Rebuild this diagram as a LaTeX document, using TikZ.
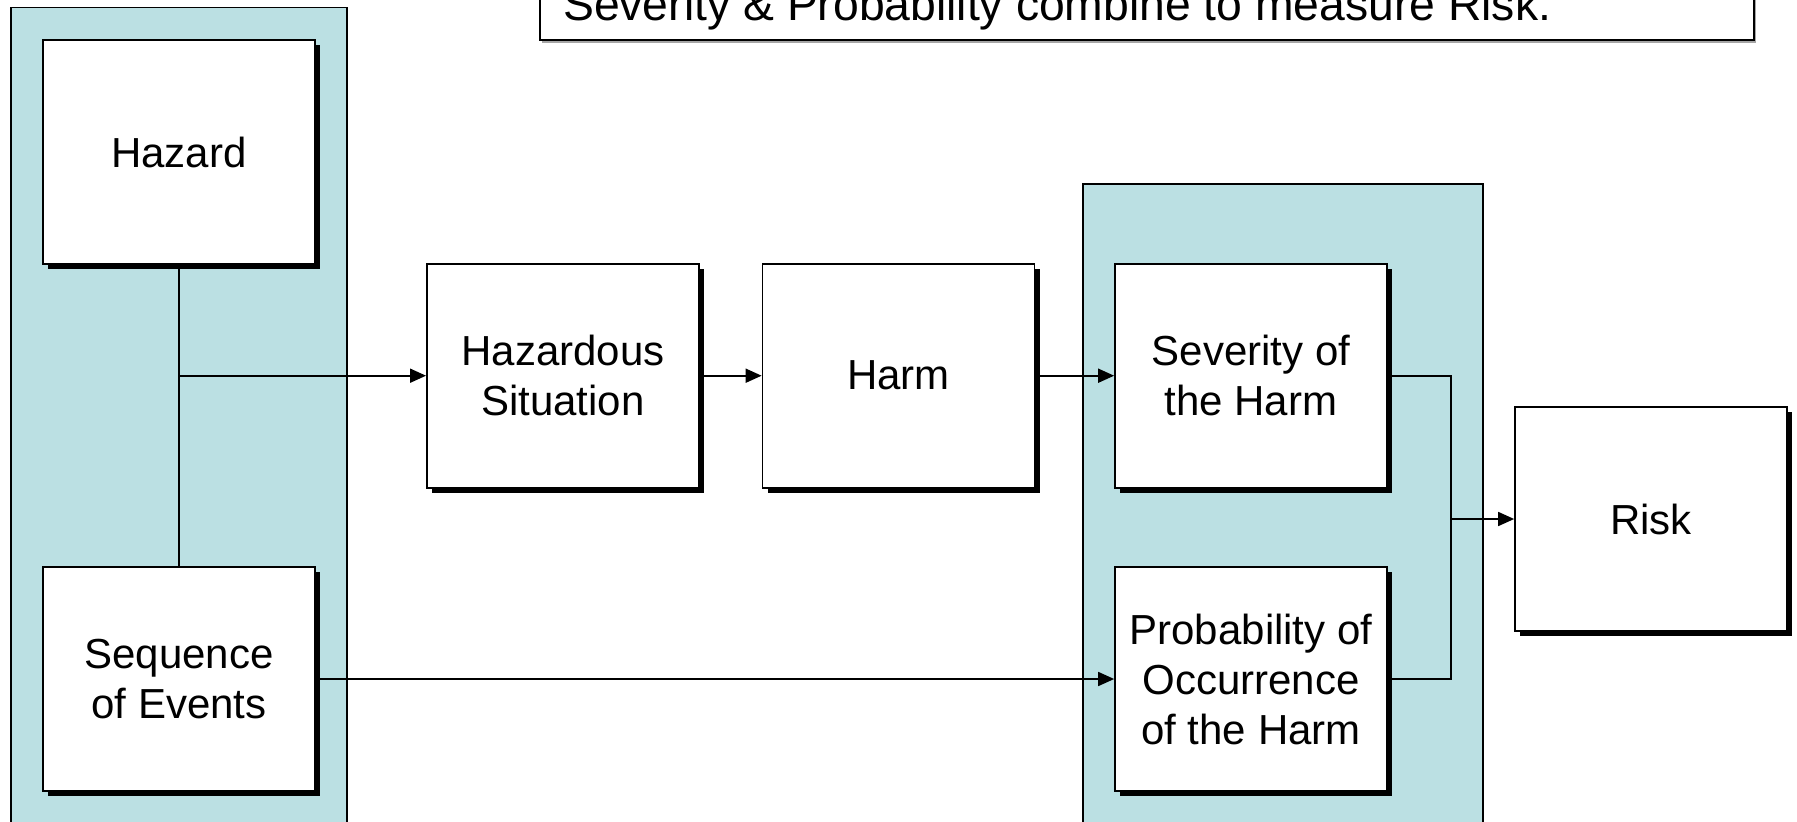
\documentclass[tikz,border=0pt]{standalone}
\usepackage{fontspec}
\setmainfont{Liberation Sans}
\usetikzlibrary{arrows.meta,shadows}
\definecolor{panelblue}{RGB}{187,224,227}
\tikzset{
  panel/.style={draw=black, line width=1.7pt, fill=panelblue},
  stepbox/.style={draw=black, line width=1.7pt, fill=white,
    minimum width=272pt, minimum height=224pt, align=center,
    inner sep=0pt, font=\fontsize{42}{50}\selectfont,
    drop shadow={shadow xshift=5pt, shadow yshift=-5pt, fill=black, opacity=1}},
  conn/.style={line width=1.7pt},
  arr/.style={conn, -{Triangle[length=16pt,width=14pt]}},
}
\begin{document}
\begin{tikzpicture}[x=1pt,y=-1pt]
\useasboundingbox (0,0) rectangle (1797,822);
% panels
\draw[panel] (11,7.5) rectangle (346.7,840);
\draw[panel] (1082.7,183.7) rectangle (1483,840);
% note box at top
\begin{scope}
\clip (0,0) rectangle (1797,822);
\fill[black!35] (542,-20) rectangle (1756,42.5);
\draw[line width=1.7pt, fill=white] (540,-20) rectangle (1754,40);
\node[anchor=base west, inner sep=0pt, font=\fontsize{46.3}{55}\selectfont] (note) at (563,20) {Severity \& Probability combine to measure Risk.};
\end{scope}
% boxes
\node[stepbox] (hazard) at (178.9,152) {Hazard};
\node[stepbox] (seq) at (178.9,679) {Sequence\\of Events};
\node[stepbox] (hsit) at (562.9,375.7) {Hazardous\\Situation};
\node[stepbox] (harm) at (898.5,375.7) {Harm};
\node[stepbox] (sev) at (1251,375.7) {Severity of\\the Harm};
\node[stepbox] (prob) at (1251,679) {Probability of\\Occurrence\\of the Harm};
\node[stepbox] (risk) at (1651,519) {Risk};
% connectors
\coordinate (j1) at (hazard.south |- hsit.west);
\coordinate (j2) at (1451,375.7);
\coordinate (j3) at (1451,679);
\coordinate (j4) at (j2 |- risk.west);
\draw[conn] (hazard.south) -- (seq.north);
\draw[arr] (j1) -- (hsit.west);
\draw[arr] (hsit.east) -- (harm.west);
\draw[arr] (harm.east) -- (sev.west);
\draw[arr] (seq.east) -- (prob.west);
\draw[conn] (sev.east) -- (j2) -- (j3) -- (prob.east);
\draw[arr] (j4) -- (risk.west);
\end{tikzpicture}
\end{document}
